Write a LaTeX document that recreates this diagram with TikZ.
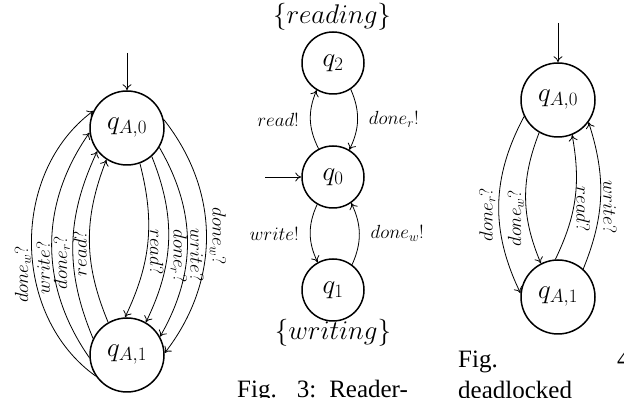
\RequirePackage{fix-cm}
\documentclass[tikz,border=0pt]{standalone}
\usepackage{fontspec}
\newfontfamily\capfont{Liberation Serif}
\usetikzlibrary{arrows.meta}
\begin{document}
\begin{tikzpicture}[x=1pt,y=1pt,
  state/.style={circle, draw, line width=1.5pt, minimum size=74pt, inner sep=0pt, font=\fontsize{27}{30}\selectfont},
  sstate/.style={state, minimum size=62pt},
  edge/.style={line width=0.8pt, -{To[length=6pt,width=9pt]}},
  lab/.style={font=\fontsize{19}{22}\selectfont, inner sep=3pt},
  setlab/.style={font=\fontsize{27}{30}\selectfont, inner sep=0pt},
  captext/.style={font=\capfont\fontsize{25}{28}\selectfont, inner sep=0pt}]
\useasboundingbox (0,0) rectangle (624,398);
% left figure
\node[state] (a0) at (127,270) {$q_{A,0}$};
\node[state] (a1) at (127,43) {$q_{A,1}$};
\coordinate (a0in) at (127,345);
\draw[edge] (a0in) -- (a0);
\draw[edge] (a0.-70) to[bend left=20] node[lab, pos=0.57, rotate=-90, anchor=south] {$read?$} (a1.93);
\draw[edge] (a0.-49) to[bend left=24] node[lab, pos=0.6, rotate=-90, anchor=south] {$done_r?$} (a1.60);
\draw[edge] (a0.-31) to[bend left=30] node[lab, pos=0.57, rotate=-90, anchor=south] {$write?$} (a1.29);
\draw[edge] (a0.13) to[bend left=38] node[lab, pos=0.5, rotate=-90, anchor=south] {$done_w?$} (a1.3);
\draw[edge] (a1.120) to[bend left=22] node[lab, pos=0.42, rotate=90, anchor=south] {$read?$} (a0.237);
\draw[edge] (a1.154) to[bend left=24] node[lab, pos=0.4, rotate=90, anchor=south] {$done_r?$} (a0.218);
\draw[edge] (a1.184) to[bend left=35] node[lab, pos=0.4, rotate=90, anchor=south] {$write?$} (a0.187);
\draw[edge] (a1.214) to[bend left=54] node[lab, pos=0.4, rotate=90, anchor=south] {$done_w?$} (a0.153);
% middle figure
\node[sstate] (q2) at (333,335) {$q_2$};
\node[sstate] (q0) at (333,221) {$q_0$};
\node[sstate] (q1) at (333,108) {$q_1$};
\node[setlab] (rd) at (332,381) {$\{reading\}$};
\node[setlab] (wr) at (333,65) {$\{writing\}$};
\coordinate (q0in) at (265,221);
\draw[edge] (q0in) -- (q0);
\draw[edge] (q0.117) to[bend left=25] node[lab, left=8pt] {$read!$} (q2.239);
\draw[edge] (q2.-56) to[bend left=25] node[lab, right=8pt] {$done_r!$} (q0.59);
\draw[edge] (q0.240) to[bend right=25] node[lab, left=8pt] {$write!$} (q1.119);
\draw[edge] (q1.53) to[bend right=25] node[lab, right=8pt] {$done_w!$} (q0.-55);
% right figure
\node[state] (b0) at (558,298) {$q_{A,0}$};
\node[state] (b1) at (558,101) {$q_{A,1}$};
\coordinate (b0in) at (558,375);
\draw[edge] (b0in) -- (b0);
\draw[edge] (b0.206) to[bend right=27] node[lab, pos=0.56, rotate=90, anchor=south] {$done_r?$} (b1.174);
\draw[edge] (b0.240) to[bend right=22] node[lab, pos=0.66, rotate=90, anchor=south] {$done_w?$} (b1.117);
\draw[edge] (b1.94) to[bend right=18] node[lab, pos=0.41, rotate=-90, anchor=south] {$read?$} (b0.-68);
\draw[edge] (b1.48) to[bend right=20] node[lab, pos=0.42, rotate=-90, anchor=south] {$write?$} (b0.-36);
% captions
\node[captext, anchor=base west] (c3) at (237,0) {Fig.\hspace{20pt}3:\hspace{13pt}Reader-};
\node[captext, anchor=base west] (c4a) at (458,30) {Fig.};
\node[captext, anchor=base west] (c4b) at (617,30) {4};
\node[captext, anchor=base west] (c4c) at (458,-1) {deadlocked};
\end{tikzpicture}
\end{document}
